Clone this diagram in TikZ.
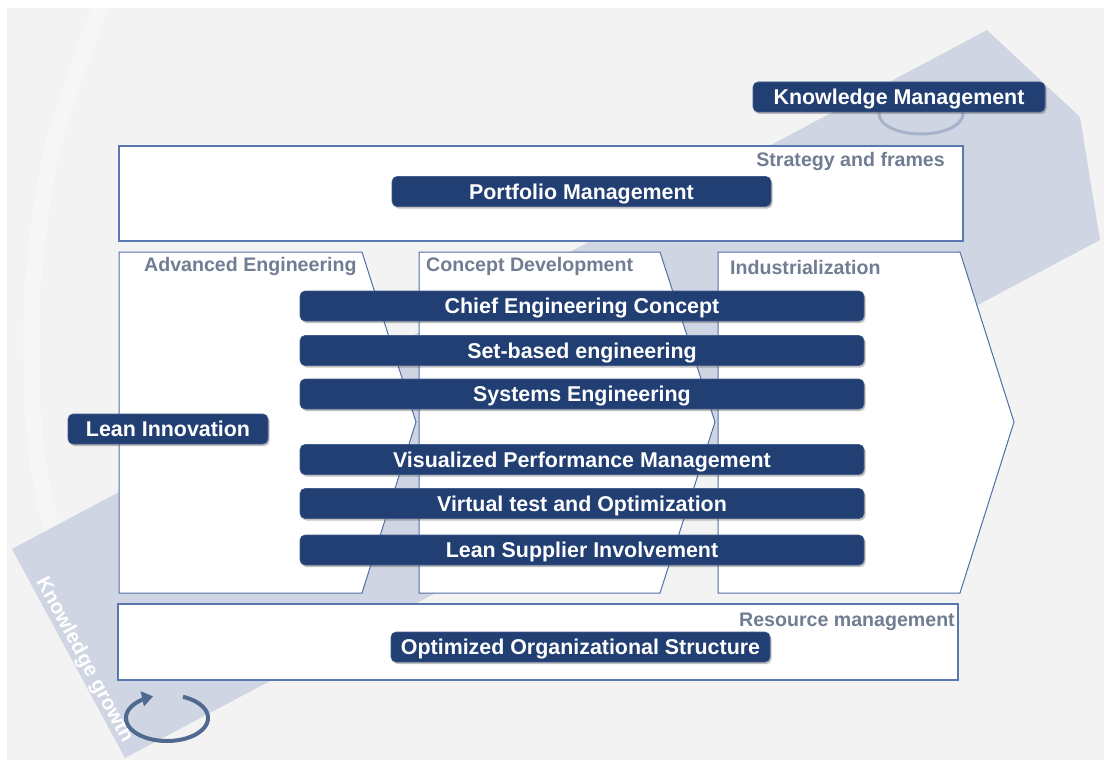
\documentclass[tikz,border=0pt]{standalone}
\usepackage{fontspec}
\setmainfont{Liberation Sans}
\usetikzlibrary{shadows,arrows.meta}
\definecolor{bgGray}{HTML}{F3F3F3}
\definecolor{bandBlue}{HTML}{CFD5E2}
\definecolor{barBlue}{HTML}{223F74}
\definecolor{frameBlue}{HTML}{5A78B0}
\definecolor{chevBlue}{HTML}{5070A8}
\definecolor{labelGray}{HTML}{717D93}
\definecolor{ringBlue}{HTML}{A7B3CB}
\definecolor{arrowBlue}{HTML}{4F6A8E}
\begin{document}
\begin{tikzpicture}[x=1pt,y=-1pt,
  bar/.style={fill=barBlue, draw=barBlue!85!white, line width=0.6pt, rounded corners=5pt,
    text=white, font=\fontsize{21.4}{24}\selectfont\bfseries, inner sep=0pt,
    minimum height=30pt, text height=15.3pt, text depth=0pt,
    drop shadow={shadow xshift=1.5pt, shadow yshift=-2pt, opacity=0.35, fill=black!70}},
  lbl/.style={text=labelGray, font=\fontsize{19.6}{22}\selectfont\bfseries, inner sep=0pt},
  framebox/.style={fill=white, draw=frameBlue, line width=1.4pt},
  chev/.style={fill=white, draw=chevBlue, line width=1pt, line join=miter}]
\useasboundingbox (0,0) rectangle (1104,760);
\fill[white] (0,0) rectangle (1104,760);
\fill[bgGray] (7,8) rectangle (1104,760);
% faint watermark arc
\begin{scope}
\clip (7,8) rectangle (1104,760);
\draw[white, opacity=0.3, line width=16pt] plot[smooth] coordinates {(100,8) (52,150) (32,300) (36,450) (62,570)};
\end{scope}
% knowledge band
\fill[bandBlue] (12,549) -- (987,30) -- (1080,117) -- (1100,240) -- (125,758) -- cycle;
% ring behind Knowledge Management
\draw[ringBlue, line width=3pt] (921,114) ellipse [x radius=42pt, y radius=20pt];
% strategy & resource frames
\draw[framebox] (119,146) rectangle (963,241);
\draw[framebox] (118,604) rectangle (958,680);
% chevrons
\draw[chev] (119,252) -- (362,252) -- (416,422) -- (362,593) -- (119,593) -- cycle;
\draw[chev] (419,252) -- (660,252) -- (715,422) -- (660,593) -- (419,593) -- cycle;
\draw[chev] (718,252) -- (960,252) -- (1014,422) -- (960,593) -- (718,593) -- cycle;
% labels
\node[lbl, anchor=base east] (strat) at (945,166) {Strategy and frames};
\node[lbl, anchor=base east] (resm) at (955,626) {Resource management};
\node[lbl, anchor=base west] (adv) at (144,271) {Advanced Engineering};
\node[lbl, anchor=base west] (cdev) at (426,271) {Concept Development};
\node[lbl, anchor=base west] (ind) at (730,274) {Industrialization};
% bars
\node[bar, minimum width=292pt] (km) at (899,97) {Knowledge Management};
\node[bar, minimum width=379pt] (pm) at (581.5,191.5) {Portfolio Management};
\node[bar, minimum width=564pt] (cec) at (582,306) {Chief Engineering Concept};
\node[bar, minimum width=564pt] (sbe) at (582,350.5) {Set-based engineering};
\node[bar, minimum width=564pt] (se) at (582,394) {Systems Engineering};
\node[bar, minimum width=564pt] (vpm) at (582,459.5) {Visualized Performance Management};
\node[bar, minimum width=564pt] (vto) at (582,503.5) {Virtual test and Optimization};
\node[bar, minimum width=564pt] (lsi) at (582,550) {Lean Supplier Involvement};
\node[bar, minimum width=200pt] (li) at (168,429) {Lean Innovation};
\node[bar, minimum width=379pt] (oos) at (580.5,647) {Optimized Organizational Structure};
% knowledge growth
\node[text=white, font=\fontsize{20.5}{22}\selectfont\bfseries, inner sep=0pt, rotate=-61.6] (kg) at (84,660) {Knowledge growth};
\draw[arrowBlue, line width=4pt, -{Triangle[length=11pt,width=15pt]}]
  plot[domain=-67:250, samples=90, variable=\t] ({167+41*cos(\t)},{718+23*sin(\t)});
\end{tikzpicture}
\end{document}
